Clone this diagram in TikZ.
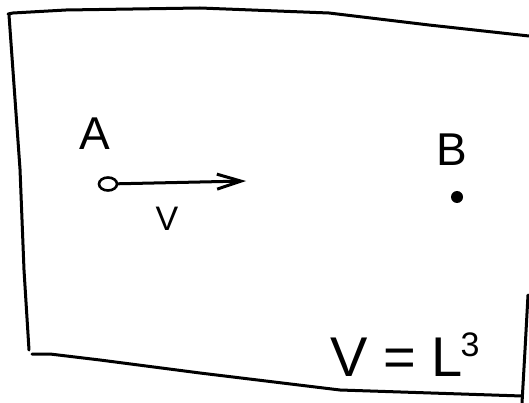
\documentclass[tikz,border=0pt]{standalone}
\usepackage{fontspec}
\setsansfont{Liberation Sans}
\usepackage{tikz}
\usetikzlibrary{arrows.meta, shapes.geometric}

\begin{document}
\begin{tikzpicture}[
  x=1pt, y=-1pt,
  pen/.style={line width=3pt, line cap=round, line join=round},
  lbl/.style={font=\sffamily\fontsize{#1}{#1}\selectfont, inner sep=0pt},
  hollow/.style={ellipse, draw, line width=2.6pt, minimum width=18pt,
    minimum height=13pt, inner sep=0pt},
  solid/.style={circle, fill, minimum size=12pt, inner sep=0pt},
]
\useasboundingbox (0,0) rectangle (529,403);

% box edges
\draw[pen] (8,14) -- (13,13) -- (66,10) -- (200,8) -- (329,13)
  -- (429,25) -- (529,36);
\draw[pen] (9,15) -- (20,169) -- (24,270) -- (29,350);
\draw[pen] (32,354) -- (50,354) -- (100,360) -- (200,373)
  -- (340,390) -- (522,396);
\draw[pen] (528,295) -- (525,350) -- (522,403);

% particle A and its velocity
\node[hollow] (ptA) at (108,184) {};
\coordinate (vtip) at (246,181);
\draw[pen, -{Straight Barb[length=24pt, width=15pt, line width=3pt]}]
  (ptA) -- (vtip);
\node[lbl=46] (labA) at (95,134) {A};
\node[lbl=34] (labV) at (167,219) {V};

% point B
\node[solid] (ptB) at (457,197) {};
\node[lbl=46] (labB) at (452,150) {B};

% volume
\node[lbl=56, anchor=base west] (eqn) at (330,376)
  {V = L\kern-2pt\raisebox{20pt}{\fontsize{34}{34}\selectfont 3}};

\end{tikzpicture}
\end{document}
